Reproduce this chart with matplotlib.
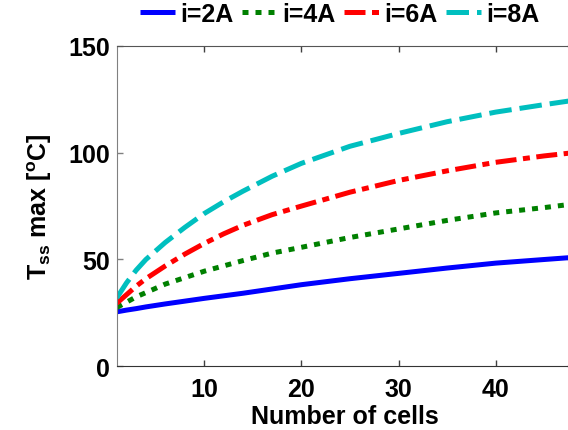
import numpy as np
import matplotlib
matplotlib.use('Agg')
import matplotlib.pyplot as plt

plt.rcParams['font.family'] = ['Liberation Sans', 'DejaVu Sans']
plt.rcParams['font.weight'] = 'bold'
plt.rcParams['font.size'] = 18
plt.rcParams['mathtext.fontset'] = 'custom'
plt.rcParams['mathtext.rm'] = 'Liberation Sans:bold'
plt.rcParams['mathtext.bf'] = 'Liberation Sans:bold'
plt.rcParams['mathtext.it'] = 'Liberation Sans:bold'

# Zellenanzahl und maximale Temperatur je Strom
cells = [1, 2, 3, 4, 5, 6, 8, 10, 12, 14, 17, 20, 25, 30, 35, 40, 45, 48]
t_2A = [25.5, 26.3, 27, 27.8, 28.5, 29.2, 30.5, 31.8, 33, 34.2, 36.2, 38.2,
        41, 43.5, 46, 48.3, 50, 51]
t_4A = [27.5, 30, 32.5, 34.5, 36.5, 38.5, 41.5, 44.5, 47, 49.5, 53, 55.7,
        60.3, 64.3, 68.3, 71.8, 74.3, 76]
t_6A = [29.5, 33.5, 37.5, 41, 44, 47, 52.5, 57.5, 62, 66, 71, 75,
        81.5, 87, 91.5, 95.5, 98.5, 100]
t_8A = [32, 39, 45, 50, 54, 58, 65, 71.5, 77, 82, 89, 95,
        103, 109, 114.5, 119, 122.5, 124.5]
labels = ['i=2A', 'i=4A', 'i=6A', 'i=8A']

fig = plt.figure(figsize=(5.68, 4.31), dpi=100)
ax = fig.add_axes([0.2055, 0.1478, 0.804, 0.7434])

lw = 3.6
ax.plot(cells, t_2A, color='#0000FF', lw=lw, solid_capstyle='butt', label=labels[0])
ax.plot(cells, t_4A, color='#008000', lw=lw, dashes=(1.2, 1.4), label=labels[1])
ax.plot(cells, t_6A, color='#FF0000', lw=lw, dashes=(4.2, 1.3, 1.4, 1.3), label=labels[2])
ax.plot(cells, t_8A, color='#00BFBF', lw=lw, dashes=(4.5, 1.6), label=labels[3])

ax.set_xlim(1, 48)
ax.set_ylim(0, 150)
ax.set_xticks([10, 20, 30, 40])
ax.set_yticks([0, 50, 100, 150])

ax.tick_params(axis='x', direction='in', length=4, width=1, pad=8, top=True, colors='#404040', labelcolor='black')
ax.tick_params(axis='y', direction='in', length=4, width=1, pad=5, right=True, colors='#808080', labelcolor='black')
ax.spines['left'].set_color('#808080')
ax.spines['bottom'].set_color('#333333')
ax.spines['top'].set_color('#555555')
ax.spines['right'].set_color('#555555')

ax.set_xlabel('Number of cells', fontweight='bold', labelpad=2)
ax.set_ylabel(r'T$_{\rm ss}$ max [$^{\rm o}$C]', fontweight='bold', labelpad=10)

fig.legend(loc='center', bbox_to_anchor=(0.598, 0.965), ncol=4, frameon=False,
           handlelength=1.4, handletextpad=0.2, columnspacing=0.35, borderpad=0,
           borderaxespad=0)

fig.savefig('out.png', dpi=100)
